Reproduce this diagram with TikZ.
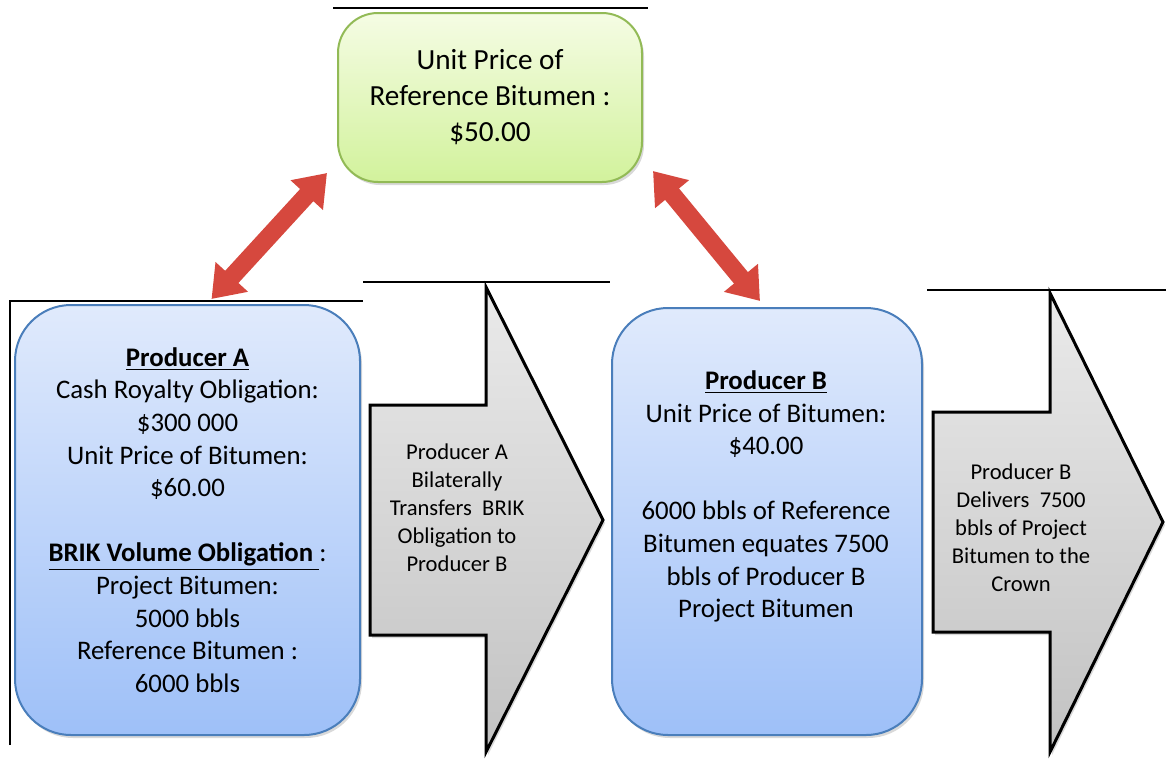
\documentclass[tikz,border=0pt]{standalone}
\usepackage{fontspec}
\setmainfont{Carlito}
\usetikzlibrary{arrows.meta,shadows}

\definecolor{bluetop}{RGB}{224,234,252}
\definecolor{bluebot}{RGB}{158,192,248}
\definecolor{boxblue}{RGB}{74,126,187}
\definecolor{greentop}{RGB}{245,252,228}
\definecolor{greenbot}{RGB}{210,242,156}
\definecolor{boxgreen}{RGB}{146,186,86}
\definecolor{arrowred}{RGB}{214,72,62}
\definecolor{graytop}{RGB}{234,234,234}
\definecolor{graybot}{RGB}{194,194,194}

\tikzset{
    softshadow/.style={drop shadow={opacity=0.3,shadow xshift=1pt,shadow yshift=-1.5pt}},
    bluebox/.style={draw=boxblue,line width=1pt,rounded corners=28pt,
        top color=bluetop,bottom color=bluebot,softshadow},
    greenbox/.style={draw=boxgreen,line width=1pt,rounded corners=20pt,
        top color=greentop,bottom color=greenbot,softshadow},
    boxtext/.style={align=center,font=\fontsize{13.4}{16.3}\selectfont},
    arrowtext/.style={align=center,font=\fontsize{11.3}{14}\selectfont},
    grayarrow/.style={draw=black,line width=1.5pt,line join=miter,
        top color=graytop,bottom color=graybot,softshadow},
    redarrow/.style={arrowred,line width=9pt,
        {Triangle[length=15pt,width=21pt]}-{Triangle[length=15pt,width=21pt]}},
    thinrule/.style={black,line width=0.6pt}
}

\begin{document}
\begin{tikzpicture}[x=0.5pt,y=-0.5pt]
        \useasboundingbox (0,0) rectangle (1166,766);

        \draw[thinrule] (333,8) -- (648,8);
        \draw[thinrule] (10,745) -- (10,301) -- (363,301);
        \draw[thinrule] (363,282) -- (610,282);
        \draw[thinrule] (927,290) -- (1166,290);

        \node[greenbox,minimum width=152pt,minimum height=84.5pt,align=center,
            font=\fontsize{14.6}{18}\selectfont] (refprice) at (490,97.5)
            {Unit Price of\\Reference Bitumen :\\\$50.00};

        \node[bluebox,boxtext,minimum width=172.5pt,minimum height=215pt] (prodA) at (187.5,520)
            {\textbf{\underline{Producer A}}\\Cash Royalty Obligation:\\\$300 000\\
             Unit Price of Bitumen:\\\$60.00\\[16.3pt]
             \textbf{\underline{BRIK Volume Obligation\ }}:\\Project Bitumen:\\5000 bbls\\
             Reference Bitumen :\\6000 bbls};

        \node[bluebox,minimum width=155pt,minimum height=213.5pt] (prodB) at (767,521.5) {};
        \node[boxtext] (prodBtext) at ([xshift=-0.5pt,yshift=12.5pt]prodB.center)
            {\textbf{\underline{Producer B}}\\Unit Price of Bitumen:\\\$40.00\\[16.3pt]
             6000 bbls of Reference\\Bitumen equates 7500\\bbls of Producer B\\Project Bitumen};

        \path[grayarrow] (370,405) -- (486,405) -- (486,287) -- (603,520)
            -- (486,752) -- (486,635) -- (370,635) -- cycle;
        \node[arrowtext] (transfer) at (457,508)
            {Producer A\\Bilaterally\\Transfers~ BRIK\\Obligation to\\Producer B};

        \path[grayarrow] (933,412) -- (1050,412) -- (1050,293) -- (1163,522)
            -- (1050,752) -- (1050,632) -- (933,632) -- cycle;
        \node[arrowtext] (deliver) at (1021,528)
            {Producer B\\Delivers~ 7500\\bbls of Project\\Bitumen to the\\Crown};

        \draw[redarrow] ([xshift=12pt,yshift=2.5pt]prodA.north)
            -- ([xshift=-5pt,yshift=5pt]refprice.south west);
        \draw[redarrow] ([xshift=5pt,yshift=6pt]refprice.south east)
            -- ([xshift=-3.5pt,yshift=3pt]prodB.north);
\end{tikzpicture}
\end{document}
